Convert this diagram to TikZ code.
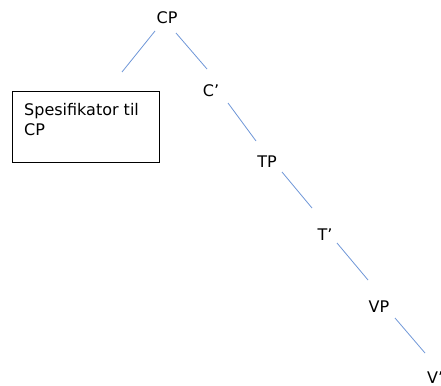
\documentclass[tikz,border=0pt]{standalone}
\usepackage{fontspec}
\setmainfont{DejaVu Sans}
\usetikzlibrary{calc}
\definecolor{branch}{RGB}{110,150,215}
\tikzset{
  lbl/.style={font=\fontsize{16}{20}\selectfont, inner sep=0pt, anchor=base},
  edge/.style={draw=branch, line width=0.8pt},
  specbox/.style={draw=black, line width=1pt, minimum width=147pt, minimum height=70pt, inner sep=0pt}
}
\begin{document}
\begin{tikzpicture}[x=1pt,y=-1pt]
\useasboundingbox (0,0) rectangle (441,385);
% tree labels
\node[lbl] (CP) at (167,24) {CP};
\node[lbl] (C1) at (211,97) {C’};
\node[lbl] (TP) at (267,167) {TP};
\node[lbl] (T1) at (325,240) {T’};
\node[lbl] (VP) at (379,312) {VP};
\node[lbl, anchor=base west] (V1) at (427,383) {V’};
% specifier box
\node[specbox] (spec) at (85.5,127) {};
\node[lbl, anchor=base west, align=left] (spectxt) at (24,135) {Spesifikator til\\CP};
\coordinate (specend) at (122,72);
% branches
\draw[edge] ($(CP.base)+(-12,7)$) -- (specend);
\draw[edge] ($(CP.base)+(9,9)$) -- ($(C1.base)+(-4,-28)$);
\draw[edge] ($(C1.base)+(17,6)$) -- ($(TP.base)+(-11,-26)$);
\draw[edge] ($(TP.base)+(15,5)$) -- ($(T1.base)+(-13,-32)$);
\draw[edge] ($(T1.base)+(12,3)$) -- ($(VP.base)+(-11,-32)$);
\draw[edge] ($(VP.base)+(16,6)$) -- ($(V1.base west)+(-2,-30)$);
\end{tikzpicture}
\end{document}
